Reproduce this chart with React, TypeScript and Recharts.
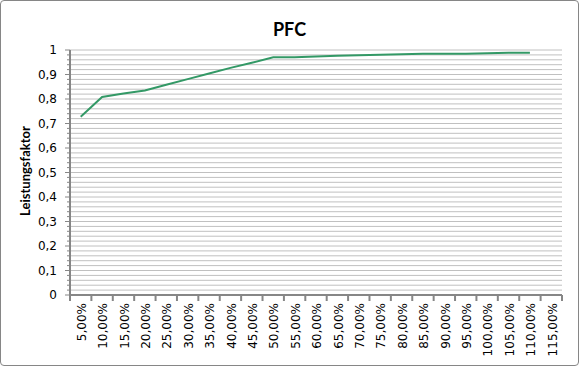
import React from 'react';
import { LineChart, Line, XAxis, YAxis, CartesianGrid } from 'recharts';

const categories = [
  '5,00%', '10,00%', '15,00%', '20,00%', '25,00%', '30,00%', '35,00%', '40,00%',
  '45,00%', '50,00%', '55,00%', '60,00%', '65,00%', '70,00%', '75,00%', '80,00%',
  '85,00%', '90,00%', '95,00%', '100,00%', '105,00%', '110,00%', '115,00%',
];

const pfcValues: (number | null)[] = [
  0.728, 0.808, 0.822, 0.835, 0.858, 0.881, 0.904, 0.927,
  0.948, 0.97, 0.97, 0.973, 0.977, 0.979, 0.981, 0.983,
  0.985, 0.985, 0.985, 0.987, 0.989, 0.989, null,
];

const majorTicks = [0, 0.1, 0.2, 0.3, 0.4, 0.5, 0.6, 0.7, 0.8, 0.9, 1];
// minor gridlines every 0.02 between the major ticks
const yTicks = majorTicks.slice(0, -1).flatMap((t) => [0, 1, 2, 3, 4].map((k) => +(t + k * 0.02).toFixed(2))).concat([1]);

const data = categories.map((cat, i) => ({ cat, pfc: pfcValues[i] }));

const FONT = 'Lato, "Open Sans", sans-serif';
const TICK_FONT = '"DejaVu Sans", Verdana, sans-serif';
const AXIS = '#868686';
const BAND = (562 - 70) / categories.length;

const YTick = (props: any) => {
  const { x, y, payload } = props;
  const major = Math.round(payload.value * 50) % 5 === 0;
  const label = String(+payload.value.toFixed(1)).replace('.', ',');
  return (
    <g>
      <line x1={x - (major ? 5 : 3)} x2={x} y1={y} y2={y} stroke={AXIS} strokeWidth={1} />
      {major && (
        <text x={x - 13} y={y} textAnchor="end" dominantBaseline="central" fontSize={12} fill="#000" fontFamily={TICK_FONT}>
          {label}
        </text>
      )}
    </g>
  );
};

const XTick = (props: any) => {
  const { x, y, payload, index } = props;
  const last = index === categories.length - 1;
  return (
    <g>
      <line x1={x - BAND / 2} x2={x - BAND / 2} y1={y} y2={y + 6} stroke={AXIS} strokeWidth={2} />
      {last && <line x1={x + BAND / 2} x2={x + BAND / 2} y1={y} y2={y + 6} stroke={AXIS} strokeWidth={2} />}
      <g transform={`translate(${x + 1},${y + 8}) rotate(-90)`}>
        <text textAnchor="end" dy="0.35em" fontSize={12} fill="#000" fontFamily={TICK_FONT}>
          {payload.value}
        </text>
      </g>
    </g>
  );
};

export default function App() {
  return (
    <div style={styles.frame}>
      <div style={styles.title}>PFC</div>
      <div style={styles.chart}>
        <LineChart width={579} height={366} data={data} margin={{ top: 50, right: 17, bottom: 0, left: 0 }}>
          <CartesianGrid horizontal vertical={false} stroke="#c0c0c0" strokeWidth={1} />
          <XAxis
            dataKey="cat"
            scale="band"
            interval={0}
            height={71}
            tickSize={0}
            tickMargin={0}
            tickLine={false}
            axisLine={{ stroke: AXIS, strokeWidth: 2 }}
            tick={<XTick />}
          />
          <YAxis
            domain={[0, 1]}
            ticks={yTicks}
            interval={0}
            width={70}
            tickSize={0}
            tickMargin={0}
            tickLine={false}
            axisLine={{ stroke: AXIS, strokeWidth: 2 }}
            tick={<YTick />}
            label={{
              content: () => (
                <text
                  x={25}
                  y={171}
                  transform="rotate(-90 25 171)"
                  textAnchor="middle"
                  dominantBaseline="central"
                  fontSize={13}
                  fontWeight={700}
                  fill="#000"
                  fontFamily={FONT}
                >
                  Leistungsfaktor
                </text>
              ),
            }}
          />
          <Line
            type="linear"
            dataKey="pfc"
            stroke="#339966"
            strokeWidth={2}
            dot={false}
            connectNulls={false}
            isAnimationActive={false}
          />
        </LineChart>
      </div>
    </div>
  );
}

const styles: Record<string, React.CSSProperties> = {
  frame: {
    position: 'absolute',
    left: 0,
    top: 0,
    width: 579,
    height: 366,
    boxSizing: 'border-box',
    border: '1px solid #868686',
    borderRadius: 4,
    background: '#fff',
  },
  title: {
    position: 'absolute',
    left: -1,
    top: 17,
    width: 579,
    textAlign: 'center',
    fontFamily: FONT,
    fontWeight: 700,
    fontSize: 18,
    lineHeight: '22px',
    color: '#000',
  },
  chart: {
    position: 'absolute',
    left: -1,
    top: -1,
  },
};
